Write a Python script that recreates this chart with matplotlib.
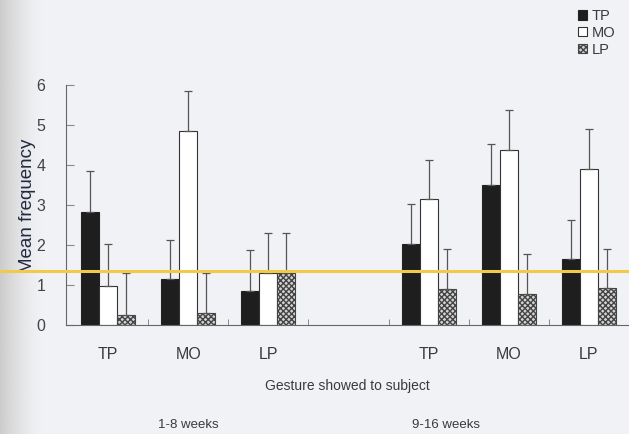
import numpy as np
import matplotlib.pyplot as plt

plt.rcParams['font.family'] = ['Liberation Sans', 'DejaVu Sans']
plt.rcParams['hatch.color'] = "#555555"

# gesture categories (empty slot separates the two age periods)
categories = ["TP", "MO", "LP", "", "TP", "MO", "LP"]
series = ["TP", "MO", "LP"]

# mean frequency per response type, one value per gesture slot
tp_mean = [2.83, 1.14, 0.85, 0, 2.03, 3.50, 1.64]
mo_mean = [0.98, 4.85, 1.31, 0, 3.15, 4.38, 3.90]
lp_mean = [0.25, 0.29, 1.31, 0, 0.90, 0.78, 0.92]

tp_err = [1.02, 0.99, 1.03, 0, 0.99, 1.02, 0.99]
mo_err = [1.04, 1.01, 0.98, 0, 0.98, 1.00, 0.99]
lp_err = [1.06, 1.02, 0.98, 0, 1.00, 1.00, 0.98]

ref_level = 1.36
period_labels = ["1-8 weeks", "9-16 weeks"]

bg = "#f1f2f5"
fig = plt.figure(figsize=(6.29, 4.34), dpi=100, facecolor=bg)

# scan shading on the left edge, fading into the page
shade = fig.add_axes([0, 0, 0.07, 1], zorder=-5)
n = 60
t = np.linspace(0, 1, n)
rgba = np.ones((1, n, 4))
rgba[..., :3] = 0.80
rgba[0, :, 3] = (1 - t) ** 1.6
shade.imshow(rgba, aspect="auto", extent=[0, 1, 0, 1], interpolation="bilinear")
shade.axis("off")

ax = fig.add_axes([66 / 629, 109 / 434, 563 / 629, 240 / 434])
ax.set_facecolor("none")

x = np.arange(len(categories))
w = 0.225
mask = np.array([c != "" for c in categories])
styles = [
    dict(color="#1e1e1e", edgecolor="#222222"),
    dict(color="white", edgecolor="#333333"),
    dict(color="#d4d4d4", edgecolor="#444444", hatch="xxxxxx"),
]
for i, (mean, err, st) in enumerate(zip([tp_mean, mo_mean, lp_mean],
                                        [tp_err, mo_err, lp_err], styles)):
    xs = x[mask] + (i - 1) * w
    m = np.array(mean)[mask]
    e = np.array(err)[mask]
    ax.bar(xs, m, width=w, linewidth=0.8, label=series[i], **st)
    ax.errorbar(xs, m, yerr=[np.zeros_like(e), e], fmt="none",
                ecolor="#555555", elinewidth=0.9, capsize=3, capthick=0.9)

ax.set_xlim(-0.525, 6.5)
ax.set_ylim(0, 6)
ax.set_yticks(range(7))
ax.set_xticks(x)
ax.set_xticklabels(categories)
ax.set_xticks(np.arange(0.5, 6, 1), minor=True)
ax.tick_params(axis="x", which="major", length=0, pad=16, labelsize=11.5, colors="#3a3a3a")
ax.tick_params(axis="x", which="minor", direction="in", length=4, color="#777777")
ax.tick_params(axis="y", direction="in", length=6, pad=15, labelsize=11.5,
               colors="#444444", color="#888888")
for s in ["top", "right"]:
    ax.spines[s].set_visible(False)
ax.spines["left"].set_color("#666666")
ax.spines["bottom"].set_color("#666666")

ax.set_xlabel("Gesture showed to subject", fontsize=10, color="#3a3a3a", labelpad=12)
ax.set_ylabel("Mean frequency", fontsize=13.5, color="#22283f", va="center")
ax.yaxis.set_label_coords(-0.069, 0.496)

# reference line crossing the whole page
fig.add_artist(plt.Line2D([0, 1], [1 - 270.5 / 434] * 2, color="#f3c94a",
                          linewidth=2.2, zorder=10))

fig.text(188 / 629, 1 - 425 / 434, period_labels[0], ha="center", va="center",
         fontsize=9.5, color="#3a3a3a")
fig.text(446 / 629, 1 - 425 / 434, period_labels[1], ha="center", va="center",
         fontsize=9.5, color="#3a3a3a")

leg = fig.legend(loc="upper left", bbox_to_anchor=(572 / 629, 1 - 3 / 434),
                 frameon=False, fontsize=10.5, handlelength=0.65, handleheight=0.65,
                 handletextpad=0.3, labelspacing=0.2, borderaxespad=0)
for t_ in leg.get_texts():
    t_.set_color("#3a3a3a")

fig.savefig("out.png", dpi=100, facecolor=bg)
